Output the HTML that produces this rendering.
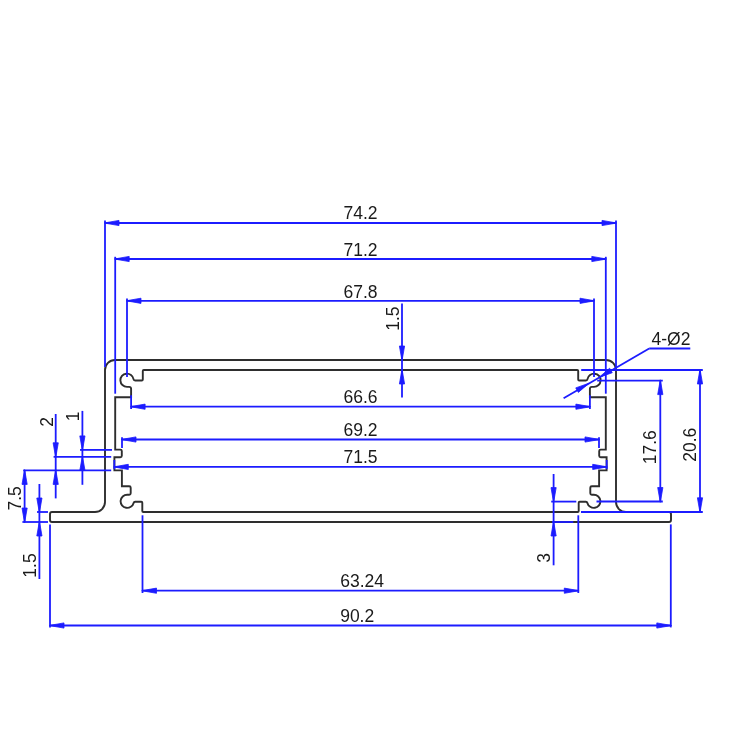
<!DOCTYPE html>
<html><head><meta charset="utf-8"><style>
html,body{margin:0;padding:0;background:#fff;}
svg{display:block;will-change:transform;}
text{font-family:"Liberation Sans",sans-serif;font-size:17.5px;fill:#1a1a1a;}
</style></head><body>
<svg width="750" height="750" viewBox="0 0 750 750">
<rect width="750" height="750" fill="#fff"/>
<path d="M52,512 L95,512 A10,10 0 0 0 105,502 L105,370 A10,10 0 0 1 115,360 L606,360 A10,10 0 0 1 616,370 L616,502 A10,10 0 0 0 626,512 L669,512 A2,2 0 0 1 671,514 L671,520 A2,2 0 0 1 669,522 L52,522 A2,2 0 0 1 50,520 L50,514 A2,2 0 0 1 52,512 Z" fill="none" stroke="#2e2e2e" stroke-width="1.9"/>
<path d="M360.50,370.00 L143.80,370.00 A1,1 0 0 0 142.80,371.00 L142.80,379.50 A1,1 0 0 1 141.80,380.50 L135.09,380.50 A1.6,1.6 0 0 1 133.51,379.16 A6.6,6.6 0 1 0 127.00,386.85 L129.10,386.85 A2,2 0 0 1 131.10,388.85 L131.10,397.20 L115.20,397.20 L115.20,449.60 L120.30,449.60 A1.5,1.5 0 0 1 121.80,451.10 L121.80,455.70 A1.5,1.5 0 0 1 120.30,457.20 L114.40,457.20 L114.40,470.40 L121.90,470.40 L121.90,486.30 L129.20,486.30 A1.5,1.5 0 0 1 130.70,487.80 L130.70,493.20 A1.5,1.5 0 0 1 129.20,494.70 L127.20,494.70 A6.6,6.6 0 1 0 133.60,502.91 A1.6,1.6 0 0 1 135.15,501.70 L141.30,501.70 A1,1 0 0 1 142.30,502.70 L142.30,511.00 A1,1 0 0 0 143.30,512.00 L360.50,512.00 L577.70,512.00 A1,1 0 0 0 578.70,511.00 L578.70,502.70 A1,1 0 0 1 579.70,501.70 L585.85,501.70 A1.6,1.6 0 0 1 587.40,502.91 A6.6,6.6 0 1 0 593.80,494.70 L591.80,494.70 A1.5,1.5 0 0 1 590.30,493.20 L590.30,487.80 A1.5,1.5 0 0 1 591.80,486.30 L599.10,486.30 L599.10,470.40 L606.60,470.40 L606.60,457.20 L600.70,457.20 A1.5,1.5 0 0 1 599.20,455.70 L599.20,451.10 A1.5,1.5 0 0 1 600.70,449.60 L605.80,449.60 L605.80,397.20 L589.90,397.20 L589.90,388.85 A2,2 0 0 1 591.90,386.85 L594.00,386.85 A6.6,6.6 0 1 0 587.49,379.16 A1.6,1.6 0 0 1 585.91,380.50 L579.20,380.50 A1,1 0 0 1 578.20,379.50 L578.20,371.00 A1,1 0 0 0 577.20,370.00 L360.50,370.00 Z" fill="none" stroke="#2e2e2e" stroke-width="1.9"/>
<line x1="105.00" y1="223.00" x2="616.00" y2="223.00" stroke="#1c1cff" stroke-width="1.8"/>
<polygon points="104.20,223.00 119.00,220.40 119.00,225.60" fill="#1c1cff" stroke="#1c1cff" stroke-width="0.8" stroke-linejoin="round"/>
<polygon points="616.80,223.00 602.00,225.60 602.00,220.40" fill="#1c1cff" stroke="#1c1cff" stroke-width="0.8" stroke-linejoin="round"/>
<line x1="105.00" y1="220.50" x2="105.00" y2="367.00" stroke="#1c1cff" stroke-width="1.8"/>
<line x1="616.00" y1="220.50" x2="616.00" y2="367.00" stroke="#1c1cff" stroke-width="1.8"/>
<text x="360.50" y="219.00" text-anchor="middle">74.2</text>
<line x1="115.20" y1="259.00" x2="605.80" y2="259.00" stroke="#1c1cff" stroke-width="1.8"/>
<polygon points="114.40,259.00 129.20,256.40 129.20,261.60" fill="#1c1cff" stroke="#1c1cff" stroke-width="0.8" stroke-linejoin="round"/>
<polygon points="606.60,259.00 591.80,261.60 591.80,256.40" fill="#1c1cff" stroke="#1c1cff" stroke-width="0.8" stroke-linejoin="round"/>
<line x1="115.20" y1="256.80" x2="115.20" y2="393.70" stroke="#1c1cff" stroke-width="1.8"/>
<line x1="605.80" y1="256.80" x2="605.80" y2="393.70" stroke="#1c1cff" stroke-width="1.8"/>
<text x="360.50" y="256.00" text-anchor="middle">71.2</text>
<line x1="127.00" y1="300.80" x2="594.00" y2="300.80" stroke="#1c1cff" stroke-width="1.8"/>
<polygon points="126.20,300.80 141.00,298.20 141.00,303.40" fill="#1c1cff" stroke="#1c1cff" stroke-width="0.8" stroke-linejoin="round"/>
<polygon points="594.80,300.80 580.00,303.40 580.00,298.20" fill="#1c1cff" stroke="#1c1cff" stroke-width="0.8" stroke-linejoin="round"/>
<line x1="127.00" y1="298.40" x2="127.00" y2="377.00" stroke="#1c1cff" stroke-width="1.8"/>
<line x1="594.00" y1="298.40" x2="594.00" y2="377.00" stroke="#1c1cff" stroke-width="1.8"/>
<text x="360.50" y="297.80" text-anchor="middle">67.8</text>
<line x1="131.10" y1="406.70" x2="589.90" y2="406.70" stroke="#1c1cff" stroke-width="1.8"/>
<polygon points="130.30,406.70 145.10,404.10 145.10,409.30" fill="#1c1cff" stroke="#1c1cff" stroke-width="0.8" stroke-linejoin="round"/>
<polygon points="590.70,406.70 575.90,409.30 575.90,404.10" fill="#1c1cff" stroke="#1c1cff" stroke-width="0.8" stroke-linejoin="round"/>
<line x1="131.10" y1="395.30" x2="131.10" y2="409.00" stroke="#1c1cff" stroke-width="1.8"/>
<line x1="589.90" y1="395.30" x2="589.90" y2="409.00" stroke="#1c1cff" stroke-width="1.8"/>
<text x="360.50" y="402.90" text-anchor="middle">66.6</text>
<line x1="122.00" y1="439.50" x2="599.00" y2="439.50" stroke="#1c1cff" stroke-width="1.8"/>
<polygon points="121.20,439.50 136.00,436.90 136.00,442.10" fill="#1c1cff" stroke="#1c1cff" stroke-width="0.8" stroke-linejoin="round"/>
<polygon points="599.80,439.50 585.00,442.10 585.00,436.90" fill="#1c1cff" stroke="#1c1cff" stroke-width="0.8" stroke-linejoin="round"/>
<line x1="122.00" y1="437.20" x2="122.00" y2="448.00" stroke="#1c1cff" stroke-width="1.8"/>
<line x1="599.00" y1="437.20" x2="599.00" y2="448.00" stroke="#1c1cff" stroke-width="1.8"/>
<text x="360.50" y="435.80" text-anchor="middle">69.2</text>
<line x1="114.30" y1="466.90" x2="606.70" y2="466.90" stroke="#1c1cff" stroke-width="1.8"/>
<polygon points="113.50,466.90 128.30,464.30 128.30,469.50" fill="#1c1cff" stroke="#1c1cff" stroke-width="0.8" stroke-linejoin="round"/>
<polygon points="607.50,466.90 592.70,469.50 592.70,464.30" fill="#1c1cff" stroke="#1c1cff" stroke-width="0.8" stroke-linejoin="round"/>
<line x1="114.30" y1="460.00" x2="114.30" y2="469.20" stroke="#1c1cff" stroke-width="1.8"/>
<line x1="606.70" y1="460.00" x2="606.70" y2="469.20" stroke="#1c1cff" stroke-width="1.8"/>
<text x="360.50" y="463.20" text-anchor="middle">71.5</text>
<line x1="142.50" y1="590.70" x2="578.30" y2="590.70" stroke="#1c1cff" stroke-width="1.8"/>
<polygon points="141.70,590.70 156.50,588.10 156.50,593.30" fill="#1c1cff" stroke="#1c1cff" stroke-width="0.8" stroke-linejoin="round"/>
<polygon points="579.10,590.70 564.30,593.30 564.30,588.10" fill="#1c1cff" stroke="#1c1cff" stroke-width="0.8" stroke-linejoin="round"/>
<line x1="142.50" y1="515.30" x2="142.50" y2="593.00" stroke="#1c1cff" stroke-width="1.8"/>
<line x1="578.30" y1="515.30" x2="578.30" y2="593.00" stroke="#1c1cff" stroke-width="1.8"/>
<text x="362.20" y="587.40" text-anchor="middle">63.24</text>
<line x1="50.00" y1="625.50" x2="670.80" y2="625.50" stroke="#1c1cff" stroke-width="1.8"/>
<polygon points="49.20,625.50 64.00,622.90 64.00,628.10" fill="#1c1cff" stroke="#1c1cff" stroke-width="0.8" stroke-linejoin="round"/>
<polygon points="671.60,625.50 656.80,628.10 656.80,622.90" fill="#1c1cff" stroke="#1c1cff" stroke-width="0.8" stroke-linejoin="round"/>
<line x1="50.00" y1="524.40" x2="50.00" y2="627.40" stroke="#1c1cff" stroke-width="1.8"/>
<line x1="670.80" y1="524.40" x2="670.80" y2="627.40" stroke="#1c1cff" stroke-width="1.8"/>
<text x="357.20" y="622.30" text-anchor="middle">90.2</text>
<line x1="402.00" y1="303.50" x2="402.00" y2="397.60" stroke="#1c1cff" stroke-width="1.8"/>
<polygon points="402.00,360.80 399.40,346.00 404.60,346.00" fill="#1c1cff" stroke="#1c1cff" stroke-width="0.8" stroke-linejoin="round"/>
<polygon points="402.00,369.20 404.60,384.00 399.40,384.00" fill="#1c1cff" stroke="#1c1cff" stroke-width="0.8" stroke-linejoin="round"/>
<text x="0" y="0" transform="translate(398.60,318.60) rotate(-90)" text-anchor="middle">1.5</text>
<line x1="700.00" y1="370.00" x2="700.00" y2="511.80" stroke="#1c1cff" stroke-width="1.8"/>
<polygon points="700.00,369.20 702.60,384.00 697.40,384.00" fill="#1c1cff" stroke="#1c1cff" stroke-width="0.8" stroke-linejoin="round"/>
<polygon points="700.00,512.60 697.40,497.80 702.60,497.80" fill="#1c1cff" stroke="#1c1cff" stroke-width="0.8" stroke-linejoin="round"/>
<line x1="581.20" y1="370.00" x2="702.80" y2="370.00" stroke="#1c1cff" stroke-width="1.8"/>
<line x1="581.00" y1="512.00" x2="702.80" y2="512.00" stroke="#1c1cff" stroke-width="1.8"/>
<text x="0" y="0" transform="translate(696.40,444.80) rotate(-90)" text-anchor="middle">20.6</text>
<line x1="660.30" y1="380.60" x2="660.30" y2="501.50" stroke="#1c1cff" stroke-width="1.8"/>
<polygon points="660.30,379.80 662.90,394.60 657.70,394.60" fill="#1c1cff" stroke="#1c1cff" stroke-width="0.8" stroke-linejoin="round"/>
<polygon points="660.30,502.30 657.70,487.50 662.90,487.50" fill="#1c1cff" stroke="#1c1cff" stroke-width="0.8" stroke-linejoin="round"/>
<line x1="597.20" y1="380.60" x2="662.80" y2="380.60" stroke="#1c1cff" stroke-width="1.8"/>
<line x1="596.50" y1="501.50" x2="662.80" y2="501.50" stroke="#1c1cff" stroke-width="1.8"/>
<text x="0" y="0" transform="translate(656.40,447.20) rotate(-90)" text-anchor="middle">17.6</text>
<line x1="80.00" y1="449.90" x2="112.00" y2="449.90" stroke="#1c1cff" stroke-width="1.8"/>
<line x1="53.60" y1="456.80" x2="111.20" y2="456.80" stroke="#1c1cff" stroke-width="1.8"/>
<line x1="23.20" y1="470.40" x2="111.20" y2="470.40" stroke="#1c1cff" stroke-width="1.8"/>
<line x1="55.70" y1="414.00" x2="55.70" y2="498.40" stroke="#1c1cff" stroke-width="1.8"/>
<polygon points="55.70,457.60 53.10,442.80 58.30,442.80" fill="#1c1cff" stroke="#1c1cff" stroke-width="0.8" stroke-linejoin="round"/>
<polygon points="55.70,469.60 58.30,484.40 53.10,484.40" fill="#1c1cff" stroke="#1c1cff" stroke-width="0.8" stroke-linejoin="round"/>
<text x="0" y="0" transform="translate(52.80,421.80) rotate(-90)" text-anchor="middle">2</text>
<line x1="82.40" y1="410.90" x2="82.40" y2="484.80" stroke="#1c1cff" stroke-width="1.8"/>
<polygon points="82.40,450.70 79.80,435.90 85.00,435.90" fill="#1c1cff" stroke="#1c1cff" stroke-width="0.8" stroke-linejoin="round"/>
<polygon points="82.40,456.00 85.00,470.40 79.80,470.40" fill="#1c1cff" stroke="#1c1cff" stroke-width="0.8" stroke-linejoin="round"/>
<text x="0" y="0" transform="translate(78.70,416.40) rotate(-90)" text-anchor="middle">1</text>
<line x1="24.60" y1="470.40" x2="24.60" y2="522.00" stroke="#1c1cff" stroke-width="1.8"/>
<polygon points="24.60,469.60 27.20,484.40 22.00,484.40" fill="#1c1cff" stroke="#1c1cff" stroke-width="0.8" stroke-linejoin="round"/>
<polygon points="24.60,522.80 22.00,508.00 27.20,508.00" fill="#1c1cff" stroke="#1c1cff" stroke-width="0.8" stroke-linejoin="round"/>
<line x1="22.40" y1="522.00" x2="48.00" y2="522.00" stroke="#1c1cff" stroke-width="1.8"/>
<text x="0" y="0" transform="translate(20.80,498.40) rotate(-90)" text-anchor="middle">7.5</text>
<line x1="39.40" y1="484.00" x2="39.40" y2="579.00" stroke="#1c1cff" stroke-width="1.8"/>
<polygon points="39.40,512.80 36.80,498.00 42.00,498.00" fill="#1c1cff" stroke="#1c1cff" stroke-width="0.8" stroke-linejoin="round"/>
<polygon points="39.40,521.20 42.00,536.00 36.80,536.00" fill="#1c1cff" stroke="#1c1cff" stroke-width="0.8" stroke-linejoin="round"/>
<line x1="37.00" y1="512.00" x2="48.00" y2="512.00" stroke="#1c1cff" stroke-width="1.8"/>
<text x="0" y="0" transform="translate(36.00,565.50) rotate(-90)" text-anchor="middle">1.5</text>
<line x1="553.60" y1="474.00" x2="553.60" y2="565.30" stroke="#1c1cff" stroke-width="1.8"/>
<polygon points="553.60,502.40 551.00,487.60 556.20,487.60" fill="#1c1cff" stroke="#1c1cff" stroke-width="0.8" stroke-linejoin="round"/>
<polygon points="553.60,521.20 556.20,536.00 551.00,536.00" fill="#1c1cff" stroke="#1c1cff" stroke-width="0.8" stroke-linejoin="round"/>
<line x1="551.20" y1="501.60" x2="576.30" y2="501.60" stroke="#1c1cff" stroke-width="1.8"/>
<line x1="552.00" y1="522.00" x2="573.30" y2="522.00" stroke="#1c1cff" stroke-width="1.8"/>
<text x="0" y="0" transform="translate(549.90,557.90) rotate(-90)" text-anchor="middle">3</text>
<line x1="563.60" y1="398.20" x2="649.20" y2="348.50" stroke="#1c1cff" stroke-width="1.8"/>
<line x1="649.20" y1="348.50" x2="690.30" y2="348.50" stroke="#1c1cff" stroke-width="1.8"/>
<polygon points="588.98,383.21 578.36,392.39 575.74,387.89" fill="#1c1cff" stroke="#1c1cff" stroke-width="0.8" stroke-linejoin="round"/>
<polygon points="599.02,377.39 609.64,368.21 612.26,372.71" fill="#1c1cff" stroke="#1c1cff" stroke-width="0.8" stroke-linejoin="round"/>
<text x="671.00" y="345.30" text-anchor="middle">4-Ø2</text>
</svg>
</body></html>
